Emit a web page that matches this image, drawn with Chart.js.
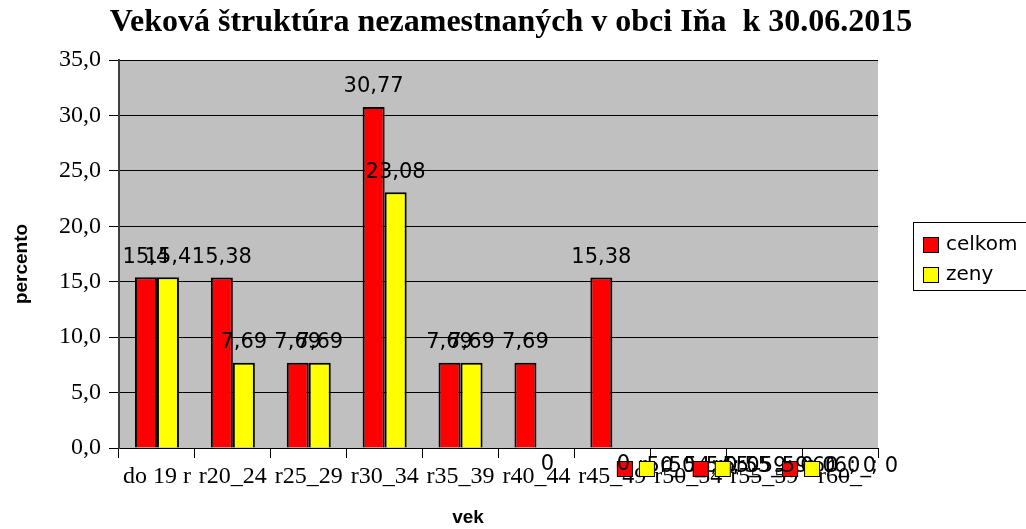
<!DOCTYPE html>
<html>
<head>
<meta charset="utf-8">
<script src="https://cdn.jsdelivr.net/npm/chart.js@4/dist/chart.umd.min.js"></script>
<style>
  html, body { margin: 0; padding: 0; background: #fff; }
  #wrap { width: 1026px; height: 529px; }
</style>
</head>
<body>
<div id="wrap"><canvas id="c" width="1026" height="529"></canvas></div>
<script>
// Age groups and shares of unemployed (percent)
const categories = ['do 19 r', 'r20_24', 'r25_29', 'r30_34', 'r35_39', 'r40_44', 'r45_49', 'r50_54', 'r55_59', 'r60_'];
const celkom = [15.4, 15.38, 7.69, 30.77, 7.69, 7.69, 15.38, 0, 0, 0];
const zeny   = [15.4, 7.69, 7.69, 23.08, 7.69, 0, 0, 0, 0, 0];
const seriesNames = ['celkom', 'zeny'];
const seriesColors = ['#FF0000', '#FFFF00'];
const yMin = 0, yMax = 35, yStep = 5;
const chartTitle = 'Veková štruktúra nezamestnaných v obci Iňa  k 30.06.2015';
const yTitle = 'percento';
const xTitle = 'vek';

const fmt = v => String(v).replace('.', ',');
const LABEL_FONT = '21px "DejaVu Sans"';

// plot background, chart title, axis titles and the boxed legend
const frame = {
  id: 'frame',
  beforeDraw(chart) {
    const { ctx, chartArea: a } = chart;
    ctx.save();
    ctx.fillStyle = '#C0C0C0';
    ctx.fillRect(a.left, a.top, a.right - a.left, a.bottom - a.top);
    ctx.restore();
  },
  afterDraw(chart) {
    const { ctx } = chart;
    ctx.save();
    ctx.fillStyle = '#000';
    ctx.textAlign = 'center';
    ctx.textBaseline = 'middle';
    ctx.font = 'bold 32px "Liberation Serif"';
    ctx.fillText(chartTitle, 511, 23);

    ctx.font = 'bold 19px "Liberation Sans"';
    ctx.fillText(xTitle, 468, 518);
    ctx.translate(22, 264);
    ctx.rotate(-Math.PI / 2);
    ctx.fillText(yTitle, 0, 0);
    ctx.restore();

    // legend
    ctx.save();
    ctx.strokeStyle = '#000';
    ctx.lineWidth = 1;
    ctx.strokeRect(913.5, 222.5, 140, 68);
    ctx.font = '20px "DejaVu Sans"';
    ctx.textBaseline = 'middle';
    ctx.textAlign = 'left';
    seriesNames.forEach((name, i) => {
      const y = 237 + i * 30;
      ctx.fillStyle = seriesColors[i];
      ctx.fillRect(923, y, 16, 16);
      ctx.strokeRect(923.5, y + 0.5, 15, 15);
      ctx.fillStyle = '#000';
      ctx.fillText(name, 946, y + 8);
    });
    ctx.restore();
  }
};

// value labels above each bar
const valueLabels = {
  id: 'valueLabels',
  afterDatasetsDraw(chart) {
    const { ctx } = chart;
    const y0 = chart.scales.y.getPixelForValue(0);
    ctx.save();
    ctx.font = LABEL_FONT;
    ctx.textBaseline = 'middle';
    chart.data.datasets.forEach((ds, di) => {
      const meta = chart.getDatasetMeta(di);
      meta.data.forEach((el, i) => {
        const v = ds.data[i];
        ctx.fillStyle = '#000';
        if (v > 0) {
          ctx.textAlign = 'center';
          ctx.fillText(fmt(v), el.x, el.y - 20);
        } else {
          const allZero = chart.data.datasets.every(d => d.data[i] === 0);
          if (!allZero) {
            ctx.textAlign = 'center';
            ctx.fillText(fmt(v), el.x, y0 + 17);
          } else {
            // label carrying legend key, category name and value
            const txt = categories[i] + '; ' + fmt(v);
            const tw = ctx.measureText(txt).width;
            const total = 17 + 4 + tw;
            const left = el.x - total / 2;
            const yy = y0 + 21;
            ctx.fillStyle = seriesColors[di];
            ctx.fillRect(left, yy - 8, 16, 16);
            ctx.strokeStyle = '#000';
            ctx.lineWidth = 1;
            ctx.strokeRect(left + 0.5, yy - 7.5, 15, 15);
            ctx.fillStyle = '#000';
            ctx.textAlign = 'left';
            ctx.fillText(txt, left + 21, yy - 2);
          }
        }
      });
    });
    ctx.restore();
  }
};

new Chart(document.getElementById('c'), {
  type: 'bar',
  data: {
    labels: categories,
    datasets: [
      { label: seriesNames[0], data: celkom, backgroundColor: seriesColors[0], borderColor: '#000', borderWidth: 2 },
      { label: seriesNames[1], data: zeny, backgroundColor: seriesColors[1], borderColor: '#000', borderWidth: 2 }
    ]
  },
  options: {
    responsive: false,
    animation: false,
    devicePixelRatio: 1,
    layout: { padding: { top: 60, right: 148, left: 0, bottom: 0 } },
    datasets: { bar: { categoryPercentage: 0.58, barPercentage: 1.0 } },
    plugins: {
      legend: { display: false },
      title: { display: false },
      tooltip: { enabled: false }
    },
    scales: {
      x: {
        afterFit(s) { s.height = 81; },
        grid: { offset: true, drawOnChartArea: false, drawTicks: true, tickLength: 10, color: '#000', lineWidth: 1 },
        border: { color: '#000', width: 1 },
        ticks: { color: '#000', font: { family: 'Liberation Serif', size: 24 }, padding: 4, maxRotation: 0, autoSkip: false }
      },
      y: {
        min: yMin, max: yMax,
        afterFit(s) { s.width = 119; },
        grid: { color: '#000', lineWidth: 1, tickLength: 10, drawTicks: true },
        border: { color: '#404040', width: 2 },
        ticks: {
          stepSize: yStep, color: '#000', padding: 8,
          font: { family: 'Liberation Serif', size: 24 },
          callback: v => v.toFixed(1).replace('.', ',')
        }
      }
    }
  },
  plugins: [frame, valueLabels]
});
</script>
</body>
</html>
